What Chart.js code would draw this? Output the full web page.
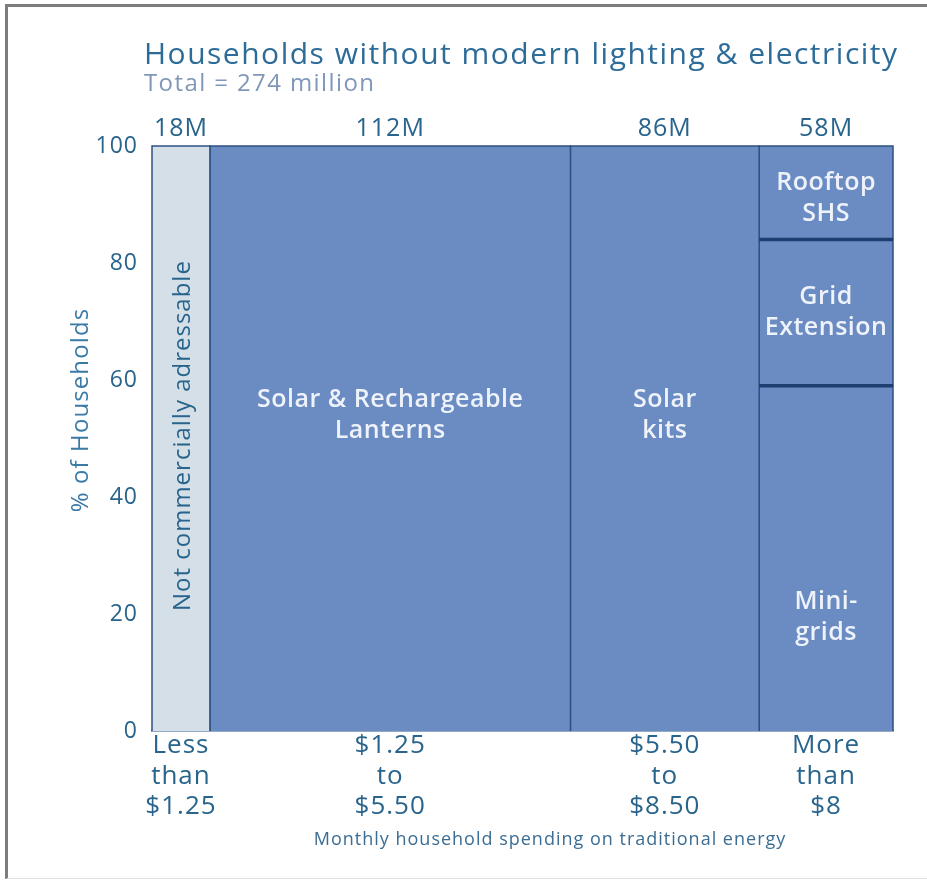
<!DOCTYPE html>
<html>
<head>
<meta charset="utf-8">
<script src="https://cdn.jsdelivr.net/npm/chart.js@4.4.1/dist/chart.umd.min.js"></script>
<style>
  html, body { margin: 0; padding: 0; background: #ffffff; }
  #wrap { position: relative; width: 927px; height: 882px; }
  #frame { position: absolute; left: 5px; top: 4px; width: 922px; height: 875px; box-sizing: border-box;
           border-top: 3px solid #7d7d7d; border-left: 3px solid #7d7d7d; border-bottom: 1px solid #e2e2e2; pointer-events: none; }
  canvas { position: absolute; left: 0; top: 0; }
</style>
</head>
<body>
<div id="wrap">
  <canvas id="c" width="927" height="882"></canvas>
  <div id="frame"></div>
</div>
<script>
// ---------------- data ----------------
const chartTitle = 'Households without modern lighting & electricity';
const chartSubtitle = 'Total = 274 million';
const yAxisTitle = '% of Households';
const xAxisTitle = 'Monthly household spending on traditional energy';

const spendingBands = [['Less', 'than', '$1.25'], ['$1.25', 'to', '$5.50'], ['$5.50', 'to', '$8.50'], ['More', 'than', '$8']];
const householdCounts = ['18M', '112M', '86M', '58M'];
// column widths as drawn in the picture (relative units)
const columnWidths = [58, 361, 189, 134];

// segments: column index, lower % and upper %
const segmentColumn = [0, 1, 2, 3, 3, 3];
const segmentFrom   = [0, 0, 0, 0, 59, 84];
const segmentTo     = [100, 100, 100, 59, 84, 100];
const segmentNames  = ['Not commercially adressable', 'Solar & Rechargeable Lanterns', 'Solar kits', 'Mini-grids', 'Grid Extension', 'Rooftop SHS'];
const segmentLabelLines = [['Not commercially adressable'], ['Solar & Rechargeable', 'Lanterns'], ['Solar', 'kits'], ['Mini-', 'grids'], ['Grid', 'Extension'], ['Rooftop', 'SHS']];
const segmentLabelY = [50.5, 54, 54, 19.5, 71.5, 91];
const yTicks = [0, 20, 40, 60, 80, 100];

// ---------------- derived ----------------
const edges = [0];
columnWidths.forEach(w => edges.push(edges[edges.length - 1] + w));
const centers = columnWidths.map((w, i) => edges[i] + w / 2);
const totalWidth = edges[edges.length - 1];

const FONT = "'Open Sans', 'Noto Sans', sans-serif";
const TEXT_BLUE = '#28648c';
const FILL_BLUE = '#6b8bc3';
const FILL_LIGHT = '#d4dfe7';
const EDGE = '#2d5283';
const SEP = '#1c3f70';

const datasets = [];
// separators inside the last column (drawn on top)
segmentFrom.forEach((f, i) => {
  if (f > 0) {
    const c = segmentColumn[i];
    datasets.push({
      label: 'sep' + i,
      data: [{ x: edges[c], y: f }, { x: edges[c + 1], y: f }],
      borderColor: SEP, borderWidth: 3.5, pointRadius: 0, fill: false, clip: false, order: 0
    });
  }
});
segmentFrom.forEach((f, i) => {
  const c = segmentColumn[i];
  const x0 = edges[c], x1 = edges[c + 1], t = segmentTo[i];
  datasets.push({
    label: segmentNames[i],
    data: [{ x: x0, y: f }, { x: x0, y: t }, { x: x1, y: t }, { x: x1, y: f }],
    backgroundColor: i === 0 ? FILL_LIGHT : FILL_BLUE,
    borderColor: EDGE, borderWidth: 1.5, pointRadius: 0, tension: 0,
    fill: { value: f }, clip: false, order: 1
  });
});

const textPlugin = {
  id: 'texts',
  beforeDraw(chart) {
    chart.ctx.letterSpacing = '1px';
  },
  afterDatasetsDraw(chart) {
    const ctx = chart.ctx;
    const xs = chart.scales.x, ys = chart.scales.y;
    ctx.save();
    segmentLabelLines.forEach((lines, i) => {
      const cx = xs.getPixelForValue(centers[segmentColumn[i]]);
      const cy = ys.getPixelForValue(segmentLabelY[i]);
      ctx.textAlign = 'center';
      ctx.textBaseline = 'middle';
      if (i === 0) {
        ctx.save();
        ctx.translate(cx + 2, cy);
        ctx.rotate(-Math.PI / 2);
        ctx.fillStyle = TEXT_BLUE;
        ctx.letterSpacing = '1px';
        ctx.font = '24px ' + FONT;
        ctx.fillText(lines[0], 0, 0);
        ctx.restore();
      } else {
        ctx.fillStyle = '#eef2fa';
        ctx.letterSpacing = '0.5px';
        ctx.font = '600 25px ' + FONT;
        const lh = 31;
        lines.forEach((l, k) => ctx.fillText(l, cx, cy + (k - (lines.length - 1) / 2) * lh));
      }
    });
    ctx.restore();
  },
  afterDraw(chart) {
    const ctx = chart.ctx;
    ctx.save();
    ctx.textAlign = 'left';
    ctx.textBaseline = 'alphabetic';
    ctx.fillStyle = '#2d6c98';
    ctx.letterSpacing = '1.5px';
    ctx.font = '30px ' + FONT;
    ctx.fillText(chartTitle, 144, 64);
    ctx.fillStyle = '#8197b8';
    ctx.letterSpacing = '1.4px';
    ctx.font = '24px ' + FONT;
    ctx.fillText(chartSubtitle, 144, 91);
    // y axis title
    ctx.save();
    ctx.translate(81, 410);
    ctx.rotate(-Math.PI / 2);
    ctx.textAlign = 'center';
    ctx.textBaseline = 'middle';
    ctx.fillStyle = '#3a7aa6';
    ctx.letterSpacing = '1.1px';
    ctx.font = '24px ' + FONT;
    ctx.fillText(yAxisTitle, 0, 0);
    ctx.restore();
    // x axis title
    ctx.textAlign = 'center';
    ctx.textBaseline = 'middle';
    ctx.fillStyle = '#3b6d94';
    ctx.letterSpacing = '1px';
    ctx.font = '18px ' + FONT;
    ctx.fillText(xAxisTitle, 550, 840);
    ctx.restore();
  }
};

new Chart(document.getElementById('c'), {
  type: 'line',
  data: { datasets },
  options: {
    responsive: false,
    animation: false,
    events: [],
    layout: { padding: { left: 0, top: 106, right: 34, bottom: 51 } },
    plugins: { legend: { display: false }, tooltip: { enabled: false }, title: { display: false } },
    scales: {
      x: {
        type: 'linear', position: 'bottom', min: 0, max: totalWidth,
        grid: { display: false, drawTicks: false },
        border: { display: true, color: EDGE, width: 1.5 },
        afterBuildTicks: s => { s.ticks = centers.map(v => ({ value: v })); },
        afterFit: s => { s.height = 100; },
        ticks: {
          autoSkip: false, maxRotation: 0, minRotation: 0, padding: 0,
          color: TEXT_BLUE, font: { family: FONT, size: 26, lineHeight: 1.16 },
          callback: (v, i) => spendingBands[i]
        }
      },
      xTop: {
        type: 'linear', axis: 'x', position: 'top', min: 0, max: totalWidth,
        grid: { display: false, drawTicks: false },
        border: { display: false },
        afterBuildTicks: s => { s.ticks = centers.map(v => ({ value: v })); },
        afterFit: s => { s.height = 40; },
        ticks: {
          autoSkip: false, maxRotation: 0, minRotation: 0, padding: 2,
          color: TEXT_BLUE, font: { family: FONT, size: 25, lineHeight: 1.2 },
          callback: (v, i) => householdCounts[i]
        }
      },
      y: {
        type: 'linear', position: 'left', min: 0, max: 100,
        grid: { display: false, drawTicks: false },
        border: { display: false },
        afterBuildTicks: s => { s.ticks = yTicks.map(v => ({ value: v })); },
        afterFit: s => { s.width = 152; },
        ticks: {
          padding: 14, color: TEXT_BLUE, font: { family: FONT, size: 23 },
          callback: v => String(v)
        }
      }
    }
  },
  plugins: [textPlugin]
});
</script>
</body>
</html>
